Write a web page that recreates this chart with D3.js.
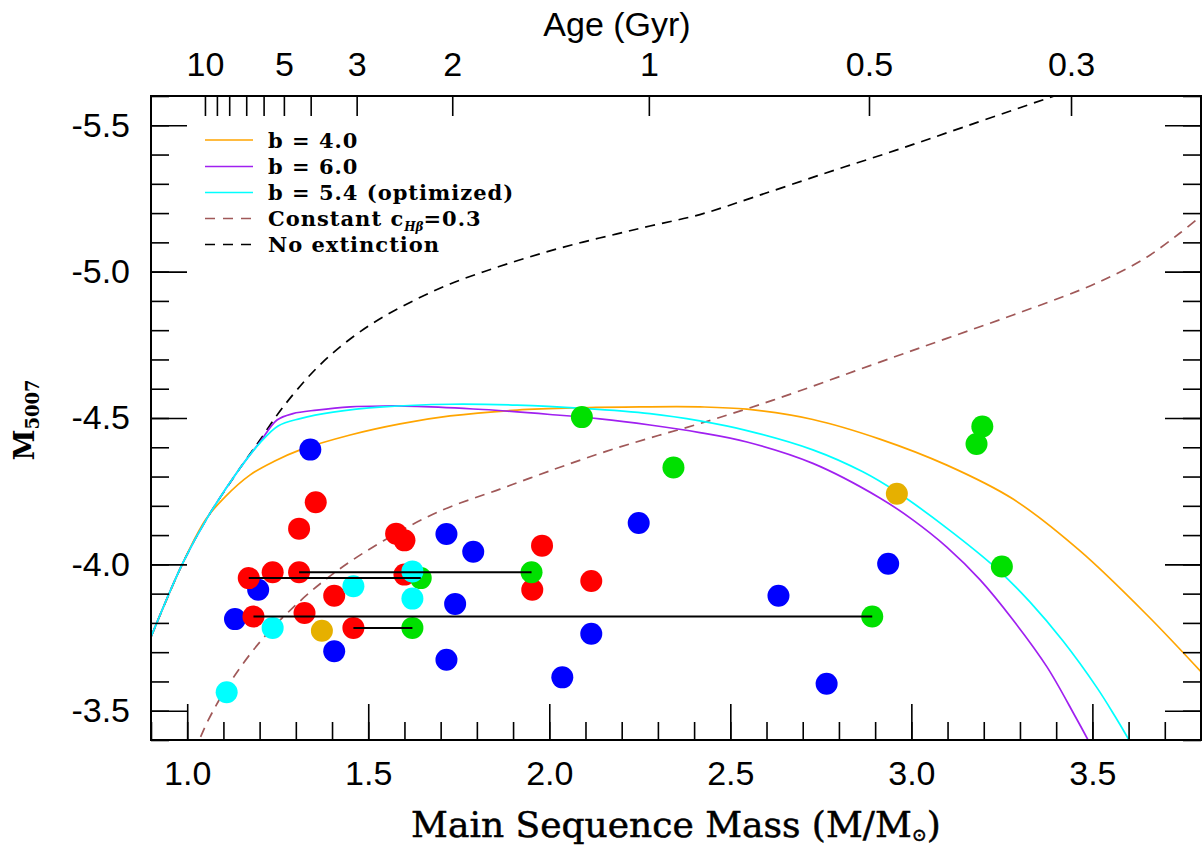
<!DOCTYPE html>
<html><head><meta charset="utf-8">
<script src="https://cdn.jsdelivr.net/npm/d3@7"></script>
<style>body{margin:0;background:#fff} svg{display:block}</style>
</head><body><svg id="c" width="1202" height="846"></svg>
<script>
// ---------- data ----------
const massMajorTicks = [1.0, 1.5, 2.0, 2.5, 3.0, 3.5];
const magMajorTicks = [-5.5, -5.0, -4.5, -4.0, -3.5];
const ageTickMass = [1.049, 1.082, 1.116, 1.163, 1.211, 1.267, 1.341, 1.468, 1.732, 2.275, 2.883, 3.441];
const ageTickLabels = ["10", "", "", "", "", "5", "", "3", "2", "1", "0.5", "0.3"];

const noExtinction = [[0.900,-3.752],[0.988,-4.005],[1.055,-4.158],[1.146,-4.329],[1.201,-4.425],[1.265,-4.538],[1.358,-4.671],[1.450,-4.770],[1.541,-4.845],[1.635,-4.907],[1.726,-4.958],[1.817,-4.999],[1.911,-5.037],[2.002,-5.071],[2.093,-5.101],[2.187,-5.129],[2.278,-5.156],[2.416,-5.195],[2.571,-5.257],[2.764,-5.337],[2.958,-5.415],[3.154,-5.498],[3.366,-5.588],[3.411,-5.607]];
const constC03 = [[1.016,-3.359],[1.033,-3.400],[1.057,-3.465],[1.110,-3.581],[1.201,-3.735],[1.312,-3.875],[1.413,-3.977],[1.541,-4.080],[1.698,-4.182],[1.864,-4.257],[1.963,-4.302],[2.046,-4.339],[2.157,-4.386],[2.278,-4.432],[2.416,-4.481],[2.618,-4.561],[2.913,-4.691],[3.098,-4.772],[3.281,-4.852],[3.466,-4.937],[3.557,-4.987],[3.651,-5.050],[3.742,-5.132],[3.803,-5.193]];
const b40 = [[0.900,-3.752],[0.988,-4.005],[1.052,-4.155],[1.104,-4.230],[1.173,-4.305],[1.242,-4.353],[1.312,-4.391],[1.450,-4.442],[1.588,-4.480],[1.726,-4.507],[1.911,-4.527],[2.093,-4.535],[2.251,-4.538],[2.416,-4.538],[2.546,-4.530],[2.728,-4.495],[2.913,-4.428],[3.098,-4.339],[3.281,-4.223],[3.466,-4.046],[3.651,-3.827],[3.803,-3.629]];
const b60 = [[0.900,-3.752],[0.988,-4.005],[1.055,-4.158],[1.146,-4.329],[1.201,-4.418],[1.248,-4.493],[1.292,-4.515],[1.358,-4.527],[1.450,-4.538],[1.541,-4.541],[1.635,-4.540],[1.817,-4.529],[2.002,-4.512],[2.140,-4.497],[2.278,-4.476],[2.416,-4.450],[2.546,-4.418],[2.728,-4.345],[2.913,-4.227],[3.004,-4.152],[3.098,-4.059],[3.190,-3.947],[3.281,-3.810],[3.375,-3.649],[3.452,-3.482],[3.485,-3.407],[3.513,-3.339]];
const b54 = [[0.900,-3.752],[0.988,-4.005],[1.055,-4.158],[1.146,-4.329],[1.201,-4.415],[1.251,-4.473],[1.312,-4.498],[1.403,-4.520],[1.541,-4.538],[1.726,-4.547],[1.911,-4.544],[2.093,-4.533],[2.278,-4.515],[2.416,-4.490],[2.546,-4.457],[2.728,-4.391],[2.866,-4.316],[2.960,-4.247],[3.098,-4.124],[3.237,-3.984],[3.328,-3.871],[3.419,-3.738],[3.513,-3.578],[3.562,-3.482],[3.598,-3.407],[3.626,-3.345]];

const bluePoints = [[1.340,-4.392],[1.196,-3.913],[1.132,-3.813],[1.406,-3.703],[1.716,-4.104],[1.790,-4.043],[1.740,-3.865],[1.716,-3.674],[2.036,-3.614],[2.116,-3.763],[2.247,-4.141],[2.936,-4.002],[2.633,-3.893],[2.766,-3.592]];
const redPoints = [[1.355,-4.212],[1.309,-4.122],[1.577,-4.105],[1.600,-4.082],[1.170,-3.953],[1.236,-3.973],[1.309,-3.973],[1.600,-3.965],[1.406,-3.893],[1.183,-3.822],[1.324,-3.834],[1.459,-3.783],[1.980,-4.064],[1.953,-3.913],[2.116,-3.943]];
const greenPoints = [[1.645,-3.953],[1.951,-3.973],[1.622,-3.783],[2.090,-4.503],[2.343,-4.331],[3.196,-4.471],[3.180,-4.411],[3.250,-3.993],[2.892,-3.822]];
const goldPoints = [[1.372,-3.773],[2.960,-4.241]];
const cyanPoints = [[1.109,-3.563],[1.236,-3.783],[1.459,-3.925],[1.622,-3.976],[1.622,-3.883]];
// connecting bars: [mass1, mass2, mag]
const bars = [[1.309,1.951,-3.973],[1.170,1.645,-3.953],[1.183,2.892,-3.822],[1.459,1.622,-3.783]];

const legendLabels = ["b = 4.0", "b = 6.0", "b = 5.4 (optimized)", "Constant c", "No extinction"];

// ---------- drawing ----------
const svg = d3.select("#c");
const L = 151, R = 1201, T = 96, B = 740;
const x = d3.scaleLinear().domain([0.9, 3.8]).range([L, R]);
const y = d3.scaleLinear().domain([-3.4, -5.6]).range([B, T]);

const minorMass = d3.range(9, 38).map(d => d / 10);
const minorMag = d3.range(-56, -33).map(d => d / 10);

svg.append("defs").append("clipPath").attr("id", "plotclip")
  .append("rect").attr("x", L).attr("y", T).attr("width", R - L).attr("height", B - T);

const line = d3.line().x(d => x(d[0])).y(d => y(d[1])).curve(d3.curveCatmullRom.alpha(0.5));
const curves = svg.append("g").attr("clip-path", "url(#plotclip)");
const curveDefs = [
  {data: constC03, color: "#a05858", dash: "10,7"},
  {data: noExtinction, color: "#000", dash: "10,7"},
  {data: b40, color: "#ffa500", dash: null},
  {data: b60, color: "#a020f0", dash: null},
  {data: b54, color: "#00ffff", dash: null}
];
curveDefs.forEach(c => {
  curves.append("path").attr("d", line(c.data)).attr("fill", "none")
    .attr("stroke", c.color).attr("stroke-width", 1.7)
    .attr("stroke-dasharray", c.dash);
});

const pts = svg.append("g").attr("clip-path", "url(#plotclip)");
[[bluePoints, "#0000ff"], [redPoints, "#ff0000"], [greenPoints, "#00e000"], [goldPoints, "#e6b000"], [cyanPoints, "#00ffff"]]
  .forEach(([arr, col]) => {
    pts.selectAll(null).data(arr).enter().append("circle")
      .attr("cx", d => x(d[0])).attr("cy", d => y(d[1])).attr("r", 11).attr("fill", col);
  });
pts.selectAll(null).data(bars).enter().append("line")
  .attr("x1", d => x(d[0])).attr("x2", d => x(d[1]))
  .attr("y1", d => y(d[2])).attr("y2", d => y(d[2]))
  .attr("stroke", "#000").attr("stroke-width", 2);

// axes
const tickFont = "'Liberation Sans', Arial, sans-serif";
function style(g) {
  g.select(".domain").remove();
  g.selectAll(".tick line").attr("stroke", "#000").attr("stroke-width", 1.6);
  g.selectAll("text").attr("font-family", tickFont).attr("font-size", 34).attr("fill", "#000");
}
svg.append("g").attr("transform", `translate(0,${B})`)
  .call(d3.axisBottom(x).tickValues(minorMass).tickSize(-18).tickFormat("")).call(style);
svg.append("g").attr("transform", `translate(0,${B})`)
  .call(d3.axisBottom(x).tickValues(massMajorTicks).tickSize(-36).tickPadding(21).tickFormat(d3.format(".1f"))).call(style);
svg.append("g").attr("transform", `translate(${L},0)`)
  .call(d3.axisLeft(y).tickValues(minorMag).tickSize(-18).tickFormat("")).call(style);
svg.append("g").attr("transform", `translate(${L},0)`)
  .call(d3.axisLeft(y).tickValues(magMajorTicks).tickSize(-36).tickPadding(21).tickFormat(d => d3.format(".1f")(d).replace("−", "-"))).call(style);
svg.append("g").attr("transform", `translate(${R},0)`)
  .call(d3.axisRight(y).tickValues(minorMag).tickSize(-18).tickFormat("")).call(style);
svg.append("g").attr("transform", `translate(${R},0)`)
  .call(d3.axisRight(y).tickValues(magMajorTicks).tickSize(-36).tickFormat("")).call(style);
svg.append("g").attr("transform", `translate(0,${T})`)
  .call(d3.axisTop(x).tickValues(ageTickMass).tickSize(-20).tickPadding(20).tickFormat((d, i) => ageTickLabels[i])).call(style);

svg.append("rect").attr("x", L).attr("y", T).attr("width", R - L).attr("height", B - T)
  .attr("fill", "none").attr("stroke", "#000").attr("stroke-width", 2);

// titles
svg.append("text").attr("x", 617).attr("y", 36).attr("text-anchor", "middle")
  .attr("font-family", tickFont).attr("font-size", 34).text("Age (Gyr)");

const serif = "'DejaVu Serif', serif";
const xt = svg.append("text").attr("x", 676).attr("y", 837).attr("text-anchor", "middle")
  .attr("font-family", serif).attr("font-size", 36).attr("stroke", "#000").attr("stroke-width", 0.5);
xt.append("tspan").text("Main Sequence Mass (M/M");
xt.append("tspan").attr("font-size", 18).attr("dy", 4).text("⊙");
xt.append("tspan").attr("dy", -4).text(")");

const yt = svg.append("text").attr("transform", "translate(34,420) rotate(-90)").attr("text-anchor", "middle")
  .attr("font-family", serif).attr("font-weight", "bold").attr("font-size", 28);
yt.append("tspan").text("M");
yt.append("tspan").attr("font-size", 18).attr("dy", 5).text("5007");

// legend
const leg = svg.append("g");
const legendStyles = [
  {color: "#ffa500", dash: null}, {color: "#a020f0", dash: null}, {color: "#00ffff", dash: null},
  {color: "#a05858", dash: "10,8"}, {color: "#000", dash: "10,8"}
];
const rowY = [140, 166.5, 192.5, 218.5, 244.5];
legendLabels.forEach((lab, i) => {
  leg.append("line").attr("x1", 205).attr("x2", 253).attr("y1", rowY[i]).attr("y2", rowY[i])
    .attr("stroke", legendStyles[i].color).attr("stroke-width", 1.7).attr("stroke-dasharray", legendStyles[i].dash);
  const t = leg.append("text").attr("x", 268).attr("y", rowY[i] + 7.5)
    .attr("font-family", serif).attr("font-weight", "bold").attr("font-size", 21).attr("letter-spacing", 1).text(lab);
  if (i === 3) {
    t.append("tspan").attr("font-size", 12).attr("font-style", "italic").attr("dy", 5).attr("letter-spacing", 0).text("Hβ");
    t.append("tspan").attr("dy", -5).text("=0.3");
  }
});
</script></body></html>
